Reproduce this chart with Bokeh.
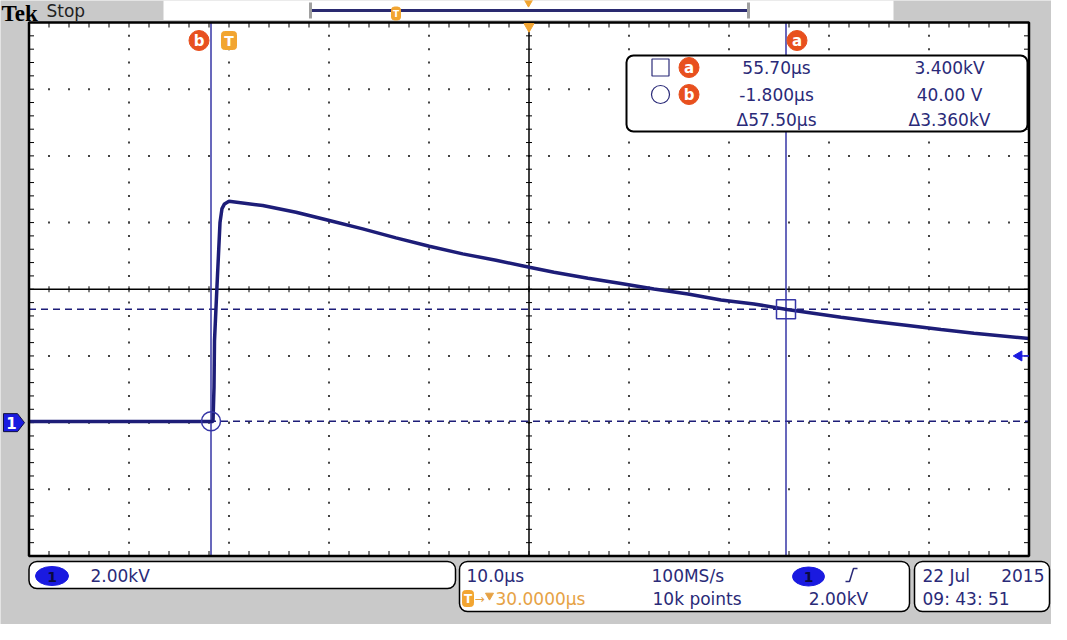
import numpy as np
from bokeh.plotting import figure
from bokeh.models import Range1d, Quad
from bokeh.core.properties import value
from bokeh.embed import file_html
from bokeh.resources import INLINE

# ---------------- data ----------------
time_us = [-20.0, -1.6, -1.5, -1.45, -1.2, -0.9, -0.7, -0.45, 0.0,
           3.37, 6.7, 10.03, 13.37, 16.7, 20.03, 23.37, 26.7, 30.03,
           32.5, 35.9, 39.2, 42.5, 45.9, 49.2, 52.5, 55.8,
           61.2, 64.5, 67.9, 71.2, 74.5, 80.0]
volt_kv = [0.03, 0.03, 1.05, 2.46, 4.1, 6.0, 6.42, 6.56, 6.64,
           6.51, 6.31, 6.06, 5.81, 5.54, 5.29, 5.06, 4.87, 4.66,
           4.51, 4.33, 4.17, 4.01, 3.86, 3.68, 3.56, 3.39,
           3.16, 3.03, 2.91, 2.79, 2.68, 2.52]

time_per_div_us = 10.0
volts_per_div_kv = 2.0
time_window_us = [-20.0, 80.0]
volt_window_kv = [-4.0, 12.0]
trigger_time_us = 0.0
trigger_level_kv = 2.0
ground_level_kv = 0.0
cursor_names = ["a", "b"]
cursor_time_us = [55.70, -1.800]
cursor_volt_kv = [3.400, 0.040]
readout_time_labels = ["55.70µs", "-1.800µs", "Δ57.50µs"]
readout_volt_labels = ["3.400kV", "40.00 V", "Δ3.360kV"]
ch1_scale_label = "2.00kV"
timebase_label = "10.0µs"
sample_rate_label = "100MS/s"
trigger_delay_label = "30.0000µs"
record_length_label = "10k points"
trigger_level_label = "2.00kV"
date_labels = ["22 Jul", "2015"]
clock_label = "09: 43: 51"

# ---------------- layout (screen pixels of the instrument display) ----------------
REF_W, REF_H = 1051, 624
GX0, GX1, GY0, GY1 = 28.5, 1028.5, 22.0, 555.5
T0, T1 = time_window_us
V0, V1 = volt_window_kv

BG = "#c9c9c9"
TRACE = "#1d1d78"
CURS = "#3636a6"
TXT = "#2a2a78"
ORED = "#e8501e"
ORNG = "#f2a531"
ORTXT = "#e6a245"
CHBLUE = "#1a1ae0"
FONT = "DejaVu Sans"

tpp = (T1 - T0) / (GX1 - GX0)
vpp = (V1 - V0) / (GY1 - GY0)


def t2x(t):
    return GX0 + (t - T0) / tpp


def v2y(v):
    return GY1 - (v - V0) / vpp


p = figure(width=REF_W, height=REF_H, x_range=Range1d(0, REF_W), y_range=Range1d(REF_H, 0),
           output_backend="svg", toolbar_location=None, min_border=0,
           x_axis_location=None, y_axis_location=None,
           background_fill_color=BG, border_fill_color=BG, outline_line_color=None)
p.grid.visible = False
p.extra_x_ranges = {"t": Range1d(T0 - GX0 * tpp, T1 + (REF_W - GX1) * tpp)}
p.extra_y_ranges = {"v": Range1d(V0 - (REF_H - GY1) * vpp, V1 + GY0 * vpp)}
D = dict(x_range_name="t", y_range_name="v")

HAS_BR = "border_radius" in Quad.properties()


def rbox(l, r, t, b, rad, fill="white", line="black", lw=1.5):
    kw = dict(border_radius=rad) if HAS_BR else {}
    p.quad(left=[l], right=[r], top=[t], bottom=[b], fill_color=fill,
           line_color=line, line_width=lw, **kw)


def txt(x, y, s, size=17, color=TXT, align="left", font=FONT, style="normal",
        baseline="middle"):
    p.text(x=[x], y=[y], text=[s], text_font=value(font), text_font_size=f"{size}px",
           text_color=color, text_align=align, text_baseline=baseline,
           text_font_style=style)


def badge(x, y, letter, color=ORED, size=20):
    p.scatter(x=[x], y=[y], marker="circle", size=size, fill_color=color, line_color=color)
    p.text(x=[x], y=[y + 0.5], text=[letter], text_font=value(FONT), text_font_size="15px",
           text_color="white", text_align="center", text_baseline="middle",
           text_font_style="bold")


def t_badge(x, y, w, h, size):
    kw = dict(border_radius=3) if HAS_BR else {}
    p.quad(left=[x - w / 2], right=[x + w / 2], top=[y - h / 2], bottom=[y + h / 2],
           fill_color=ORNG, line_color=ORNG, **kw)
    p.text(x=[x], y=[y + 0.5], text=["T"], text_font=value(FONT), text_font_size=f"{size}px",
           text_color="white", text_align="center", text_baseline="middle",
           text_font_style="bold")


# ---------------- graticule ----------------
p.quad(left=[T0], right=[T1], bottom=[V0], top=[V1], fill_color="white", line_color=None, **D)

n_h = int(round((T1 - T0) / time_per_div_us))
n_v = int(round((V1 - V0) / volts_per_div_kv))
t_center = (T0 + T1) / 2
v_center = (V0 + V1) / 2
t_minor = time_per_div_us / 5
v_minor = volts_per_div_kv / 5
minor_t = [T0 + j * t_minor for j in range(1, n_h * 5)]
minor_v = [V0 + j * v_minor for j in range(1, n_v * 5)]
div_t = [T0 + k * time_per_div_us for k in range(1, n_h) if k != n_h // 2]
div_v = [V0 + k * volts_per_div_kv for k in range(1, n_v) if k != n_v // 2]

dx, dy = [], []
for t in div_t:
    dx += [t] * len(minor_v)
    dy += minor_v
for v in div_v:
    dx += minor_t
    dy += [v] * len(minor_t)
p.scatter(x=dx, y=dy, marker="square", size=2, fill_color="#444444", line_color=None, **D)

# center cross with ticks
p.segment(x0=[T0], y0=[v_center], x1=[T1], y1=[v_center], line_color="black", line_width=1.5, **D)
p.segment(x0=[t_center], y0=[V0], x1=[t_center], y1=[V1], line_color="black", line_width=1.5, **D)
tk_v = 3 * vpp
tk_t = 3 * tpp
p.segment(x0=minor_t, y0=[v_center - tk_v] * len(minor_t), x1=minor_t,
          y1=[v_center + tk_v] * len(minor_t), line_color="black", line_width=1, **D)
p.segment(x0=[t_center - tk_t] * len(minor_v), y0=minor_v, x1=[t_center + tk_t] * len(minor_v),
          y1=minor_v, line_color="black", line_width=1, **D)
# border ticks
bt = 5 * vpp
bx = 5 * tpp
p.segment(x0=minor_t * 2, y0=[V1] * len(minor_t) + [V0] * len(minor_t), x1=minor_t * 2,
          y1=[V1 - bt] * len(minor_t) + [V0 + bt] * len(minor_t), line_color="black",
          line_width=1, **D)
p.segment(x0=[T0] * len(minor_v) + [T1] * len(minor_v), y0=minor_v * 2,
          x1=[T0 + bx] * len(minor_v) + [T1 - bx] * len(minor_v), y1=minor_v * 2,
          line_color="black", line_width=1, **D)

# ---------------- cursors and trace ----------------
p.segment(x0=[T0] * 2, y0=cursor_volt_kv, x1=[T1] * 2, y1=cursor_volt_kv,
          line_color=TRACE, line_width=1.5, line_dash="7 5", **D)
p.segment(x0=cursor_time_us, y0=[V0] * 2, x1=cursor_time_us, y1=[V1] * 2,
          line_color=CURS, line_width=1.5, **D)
p.line(x=time_us, y=volt_kv, line_color=TRACE, line_width=3.5, **D)
p.scatter(x=[cursor_time_us[0]], y=[cursor_volt_kv[0]], marker="square", size=19,
          fill_color=None, line_color=CURS, line_width=1.5, **D)
p.scatter(x=[cursor_time_us[1]], y=[cursor_volt_kv[1]], marker="circle", size=19,
          fill_color=None, line_color=CURS, line_width=1.5, **D)

# border of graticule
p.quad(left=[T0], right=[T1], bottom=[V0], top=[V1], fill_color=None, line_color="black",
       line_width=2.5, **D)

# trigger level marker (right) and position marker (top)
p.segment(x0=[t2x(T1) - 8], y0=[v2y(trigger_level_kv)], x1=[t2x(T1)], y1=[v2y(trigger_level_kv)],
          line_color=CHBLUE, line_width=1.5)
p.scatter(x=[t2x(T1) - 10], y=[v2y(trigger_level_kv)], marker="triangle", angle=np.pi / 2,
          size=10, fill_color=CHBLUE, line_color=CHBLUE)
p.scatter(x=[t2x(t_center)], y=[GY0 + 4], marker="inverted_triangle", size=10,
          fill_color=ORNG, line_color=ORNG)

# cursor / trigger badges above the graticule
badge(t2x(cursor_time_us[1]) - 12, 40, cursor_names[1])
badge(t2x(cursor_time_us[0]) + 11, 40, cursor_names[0])
t_badge(t2x(trigger_time_us), 40, 15, 18, 14)

# ground marker for channel 1 (left)
gy = v2y(ground_level_kv)
p.patch(x=[3, 17, 24, 17, 3], y=[gy - 9, gy - 9, gy, gy + 9, gy + 9], fill_color=CHBLUE,
        line_color="#101040", line_width=1)
p.text(x=[11], y=[gy + 0.5], text=["1"], text_font=value(FONT), text_font_size="15px",
       text_color="white", text_align="center", text_baseline="middle", text_font_style="bold")

# ---------------- readout box ----------------
rbox(626, 1027, 55, 131, 7, lw=2)
rows_y = [67, 94, 119]
p.scatter(x=[660], y=[rows_y[0]], marker="square", size=17, fill_color=None, line_color=TXT,
          line_width=1.2)
p.scatter(x=[660], y=[rows_y[1]], marker="circle", size=18, fill_color=None, line_color=TXT,
          line_width=1.2)
badge(688.5, rows_y[0], cursor_names[0])
badge(688.5, rows_y[1], cursor_names[1])
for y, s in zip(rows_y, readout_time_labels):
    txt(776, y, s, align="center")
for y, s in zip(rows_y, readout_volt_labels):
    txt(949, y, s, align="center")

# ---------------- top bar ----------------
txt(1, 12.5, "Tek", size=23, color="black", font="Liberation Serif", style="bold")
txt(46, 10.5, "Stop", size=17, color="#222222")
p.quad(left=[163], right=[893], top=[0], bottom=[19.5], fill_color="white", line_color=None)
p.segment(x0=[311], y0=[10], x1=[748], y1=[10], line_color="#2a2a70", line_width=3)
p.segment(x0=[310, 748], y0=[2, 2], x1=[310, 748], y1=[18, 18], line_color="#a0a0a0",
          line_width=3)
t_badge(395.5, 13, 9, 13, 9)
p.scatter(x=[528], y=[2], marker="inverted_triangle", size=8, fill_color=ORNG, line_color=ORNG)

# ---------------- bottom panels ----------------
R1, R2 = 575, 598
rbox(28.5, 455, 561, 588, 8)
rbox(459, 909, 561, 611, 8)
rbox(914, 1049, 561, 611, 8)

p.ellipse(x=[51.5, 808], y=[575.5, 576], width=[33, 32], height=[19, 19], fill_color=CHBLUE,
          line_color=CHBLUE)
p.text(x=[51.5, 808], y=[576, 576.5], text=["1", "1"], text_font=value(FONT),
       text_font_size="14px", text_color="#0a0a40", text_align="center",
       text_baseline="middle", text_font_style="bold")
txt(90, R1, ch1_scale_label)

txt(466, R1, timebase_label)
txt(651, R1, sample_rate_label)
p.line(x=[845, 849, 853, 857], y=[581, 581, 568, 568], line_color=TXT, line_width=1.5)
t_badge(467.5, 598, 11, 16, 12)
txt(474, R2, "→", size=12, color=ORTXT)
p.scatter(x=[489], y=[595], marker="inverted_triangle", size=8, fill_color=ORTXT,
          line_color=ORTXT)
txt(495, R2, trigger_delay_label, color=ORTXT)
txt(652, R2, record_length_label)
txt(838, R2, trigger_level_label, align="center")

txt(922, R1, date_labels[0])
txt(1044, R1, date_labels[1], align="right")
txt(922, R2, clock_label)

open("out.html", "w").write(file_html(p, INLINE))
